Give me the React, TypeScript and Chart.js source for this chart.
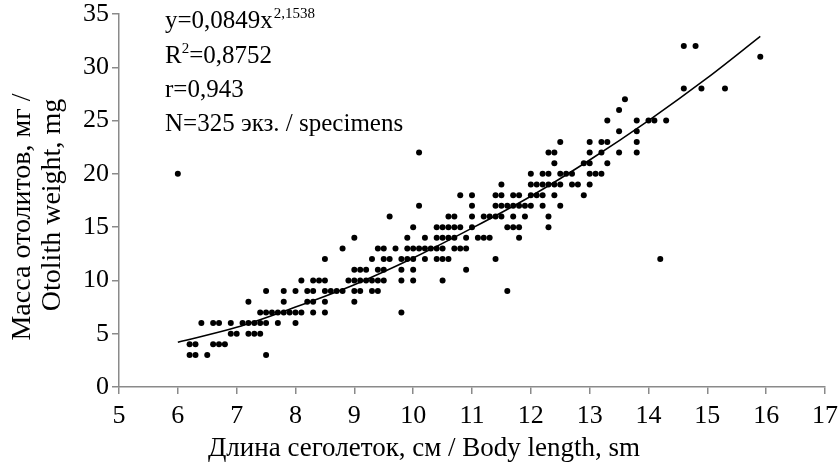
import React, { useEffect, useRef } from 'react';
import { Chart, registerables } from 'chart.js';

Chart.register(...registerables);

// Otolith weight (mg) rows and the body lengths (cm) of the specimens in each row
const WEIGHTS = [3, 4, 5, 6, 7, 8, 9, 10, 11, 12, 13, 14, 15, 16, 17, 18, 19, 20, 21, 22, 23, 24, 25, 26, 27, 28, 31, 32];
const L_W3 = [6.2, 6.3, 6.5, 7.5];
const L_W4 = [6.2, 6.3, 6.6, 6.7, 6.8];
const L_W5 = [6.9, 7.0, 7.2, 7.3, 7.4];
const L_W6 = [6.4, 6.6, 6.7, 6.9, 7.1, 7.2, 7.3, 7.4, 7.5, 7.7, 8.0];
const L_W7 = [7.4, 7.5, 7.6, 7.7, 7.8, 7.9, 8.0, 8.1, 8.3, 8.5, 9.8];
const L_W8 = [7.2, 7.8, 8.2, 8.3, 8.5, 9.0];
const L_W9 = [7.5, 7.8, 8.0, 8.2, 8.3, 8.5, 8.6, 8.7, 8.8, 9.0, 9.1, 9.3, 9.4, 11.6];
const L_W10 = [8.1, 8.3, 8.4, 8.5, 8.9, 9.0, 9.1, 9.2, 9.3, 9.4, 9.5, 9.8, 10.0, 10.5];
const L_W11 = [9.0, 9.1, 9.2, 9.4, 9.5, 9.8, 10.0, 10.9];
const L_W12 = [8.5, 9.3, 9.5, 9.6, 9.8, 9.9, 10.0, 10.2, 10.4, 10.5, 10.6, 11.4, 14.2];
const L_W13 = [8.8, 9.4, 9.5, 9.7, 9.9, 10.0, 10.1, 10.2, 10.3, 10.4, 10.5, 10.7, 10.8, 10.9];
const L_W14 = [9.0, 9.9, 10.2, 10.4, 10.5, 10.6, 10.7, 10.9, 11.1, 11.2, 11.3, 11.8];
const L_W15 = [10.0, 10.4, 10.5, 10.6, 10.7, 10.8, 11.0, 11.6, 11.7, 11.8, 12.3];
const L_W16 = [9.6, 10.6, 10.7, 11.0, 11.2, 11.3, 11.4, 11.5, 11.7, 11.9, 12.3];
const L_W17 = [10.1, 11.0, 11.4, 11.5, 11.6, 11.7, 11.8, 11.9, 12.0, 12.2, 12.5];
const L_W18 = [10.8, 11.0, 11.4, 11.5, 11.7, 11.8, 12.0, 12.1, 12.2, 12.4, 12.9];
const L_W19 = [11.5, 12.0, 12.1, 12.2, 12.3, 12.4, 12.5, 12.7, 12.8, 13.0];
const L_W20 = [6.0, 12.0, 12.2, 12.3, 12.5, 12.6, 12.7, 13.0, 13.1, 13.2];
const L_W21 = [12.4, 12.9, 13.0, 13.3];
const L_W22 = [10.1, 12.3, 12.4, 13.0, 13.2, 13.5, 13.8];
const L_W23 = [12.5, 13.0, 13.2, 13.3, 13.8];
const L_W24 = [13.5, 13.8];
const L_W25 = [13.3, 13.8, 14.0, 14.1, 14.3];
const L_W26 = [13.5];
const L_W27 = [13.6];
const L_W28 = [14.6, 14.9, 15.3];
const L_W31 = [15.9];
const L_W32 = [14.6, 14.8];
const LENGTHS_BY_WEIGHT = [
  L_W3, L_W4, L_W5, L_W6, L_W7, L_W8, L_W9, L_W10, L_W11, L_W12, L_W13, L_W14, L_W15, L_W16,
  L_W17, L_W18, L_W19, L_W20, L_W21, L_W22, L_W23, L_W24, L_W25, L_W26, L_W27, L_W28, L_W31, L_W32,
];

// Trend curve
const CURVE_X = [6.0, 7, 8, 9, 10, 11, 12, 13, 14, 15, 15.9];
const CURVE_Y = [4.2, 5.6, 7.5, 9.6, 12.1, 14.9, 17.9, 21.3, 25.0, 29.0, 32.9];

// Axis ticks
const X_TICKS = [5, 6, 7, 8, 9, 10, 11, 12, 13, 14, 15, 16, 17];
const Y_TICKS = [0, 5, 10, 15, 20, 25, 30, 35];

// Texts
const X_TITLE = 'Длина сеголеток, см / Body length, sm';
const Y_TITLE = ['Масса отолитов, мг /', 'Otolith weight, mg'];
const EQ_MAIN = 'y=0,0849x';
const EQ_EXP = '2,1538';
const R2_A = 'R';
const R2_SUP = '2';
const R2_B = '=0,8752';
const R_LINE = 'r=0,943';
const N_LINE = 'N=325 экз. / specimens';

const FAMILY = '"Liberation Serif", "Times New Roman", serif';
const AXIS_COLOR = '#8a8a8a';

const textPlugin = {
  id: 'customTexts',
  afterDraw(chart: any) {
    const ctx = chart.ctx as CanvasRenderingContext2D;
    ctx.save();
    ctx.fillStyle = '#000';

    // Y axis title (two rotated lines)
    ctx.font = `28px ${FAMILY}`;
    ctx.textAlign = 'center';
    ctx.textBaseline = 'alphabetic';
    ctx.save();
    ctx.translate(30, 217);
    ctx.rotate(-Math.PI / 2);
    ctx.fillText(Y_TITLE[0], 0, 0);
    ctx.restore();
    ctx.save();
    ctx.translate(60, 205);
    ctx.rotate(-Math.PI / 2);
    ctx.fillText(Y_TITLE[1], 0, 0);
    ctx.restore();

    // X axis title
    ctx.font = `27px ${FAMILY}`;
    ctx.textAlign = 'center';
    ctx.fillText(X_TITLE, 424, 456);

    // Regression annotation
    const x0 = 165;
    const big = `25px ${FAMILY}`;
    const small = `15px ${FAMILY}`;
    ctx.textAlign = 'left';
    ctx.font = big;
    ctx.fillText(EQ_MAIN, x0, 28);
    const w1 = ctx.measureText(EQ_MAIN).width;
    ctx.font = small;
    ctx.fillText(EQ_EXP, x0 + w1 + 1, 18);

    ctx.font = big;
    ctx.fillText(R2_A, x0, 63);
    const wR = ctx.measureText(R2_A).width;
    ctx.font = small;
    ctx.fillText(R2_SUP, x0 + wR, 53);
    const wS = ctx.measureText(R2_SUP).width;
    ctx.font = big;
    ctx.fillText(R2_B, x0 + wR + wS, 63);

    ctx.fillText(R_LINE, x0, 97);
    ctx.fillText(N_LINE, x0, 131);
    ctx.restore();
  },
};

export default function App() {
  const canvasRef = useRef<HTMLCanvasElement | null>(null);

  useEffect(() => {
    const canvas = canvasRef.current;
    if (!canvas) return;

    const points: { x: number; y: number }[] = [];
    WEIGHTS.forEach((w, i) => {
      LENGTHS_BY_WEIGHT[i].forEach((len) => points.push({ x: len, y: w }));
    });
    const curve = CURVE_X.map((x, i) => ({ x, y: CURVE_Y[i] }));
    const tickFont = { family: FAMILY, size: 26 };

    const chart = new Chart(canvas, {
      type: 'scatter',
      data: {
        datasets: [
          {
            type: 'line',
            data: curve,
            borderColor: '#000',
            borderWidth: 1.5,
            pointRadius: 0,
            cubicInterpolationMode: 'monotone',
            fill: false,
            order: 1,
          } as any,
          {
            type: 'scatter',
            data: points,
            backgroundColor: '#000',
            borderColor: '#000',
            borderWidth: 0,
            pointRadius: 3,
            order: 0,
          },
        ],
      },
      options: {
        animation: false,
        responsive: false,
        devicePixelRatio: 1,
        layout: { padding: { top: 14, right: 13, left: 0, bottom: 0 } },
        plugins: { legend: { display: false }, tooltip: { enabled: false } },
        scales: {
          x: {
            type: 'linear',
            min: X_TICKS[0],
            max: X_TICKS[X_TICKS.length - 1],
            afterBuildTicks: (s: any) => {
              s.ticks = X_TICKS.map((v) => ({ value: v }));
            },
            ticks: { font: tickFont, color: '#000', padding: 7, maxRotation: 0, autoSkip: false },
            grid: { drawOnChartArea: false, drawTicks: true, tickLength: 7, color: AXIS_COLOR, lineWidth: 1.5 },
            border: { display: true, color: AXIS_COLOR, width: 1.5 },
            afterFit: (s: any) => {
              s.height = 78;
              s.paddingLeft = 0;
              s.paddingRight = 0;
            },
          },
          y: {
            type: 'linear',
            min: Y_TICKS[0],
            max: Y_TICKS[Y_TICKS.length - 1],
            afterBuildTicks: (s: any) => {
              s.ticks = Y_TICKS.map((v) => ({ value: v }));
            },
            ticks: { font: tickFont, color: '#000', padding: 3, autoSkip: false },
            grid: { drawOnChartArea: false, drawTicks: true, tickLength: 7, color: AXIS_COLOR, lineWidth: 1.5 },
            border: { display: true, color: AXIS_COLOR, width: 1.5 },
            afterFit: (s: any) => {
              s.width = 119;
              s.paddingTop = 0;
              s.paddingBottom = 0;
            },
          },
        },
      },
      plugins: [textPlugin],
    });

    return () => chart.destroy();
  }, []);

  return (
    <div style={{ position: 'absolute', left: 0, top: 0, width: 838, height: 465, background: '#fff' }}>
      <canvas ref={canvasRef} width={838} height={465} style={{ display: 'block' }} />
    </div>
  );
}
